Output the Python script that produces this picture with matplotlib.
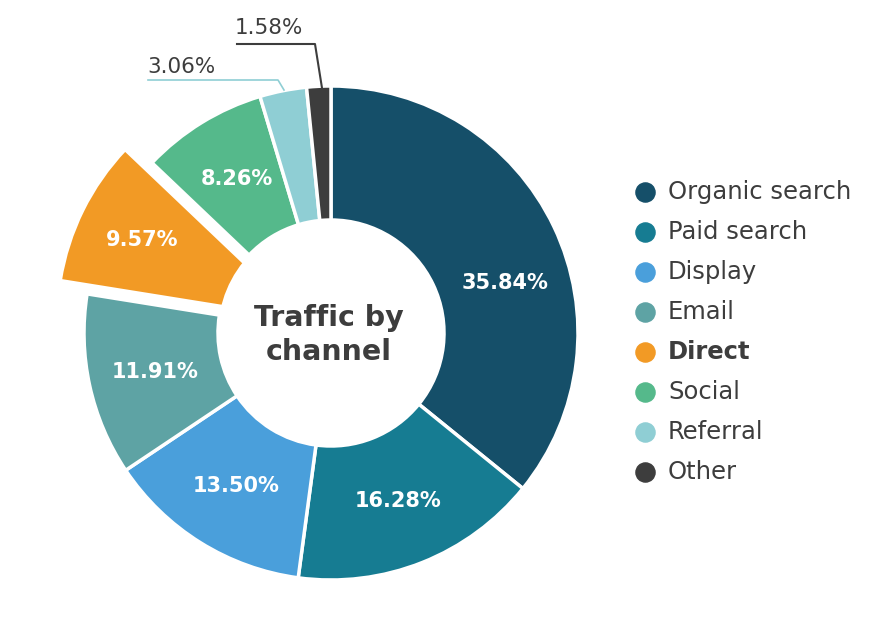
import matplotlib.pyplot as plt
from matplotlib.patches import Circle

canales = ["Organic search", "Paid search", "Display", "Email", "Direct",
           "Social", "Referral", "Other"]
porcentajes = [35.84, 16.28, 13.50, 11.91, 9.57, 8.26, 3.06, 1.58]
colores = ["#154f69", "#167c92", "#4a9fdb", "#5ea3a4", "#f29a25",
           "#55b98b", "#8fced4", "#3d3d3d"]
separado = [0, 0, 0, 0, 30, 0, 0, 0]  # en pixeles (unidades de datos)

plt.rcParams['font.family'] = ['DejaVu Sans']
texto = "#3d3d3d"

fig = plt.figure(figsize=(8.89, 6.34), dpi=100)
ax = fig.add_axes([0, 0, 1, 1])

centro = (331, 301)
radio = 247
hueco = 113

wedges, _, autotexts = ax.pie(
    porcentajes, colors=colores, explode=separado, startangle=90,
    counterclock=False, center=centro, radius=radio, frame=True,
    autopct=lambda p: f"{p:.2f}%", pctdistance=0.73,
    wedgeprops=dict(width=radio - hueco, edgecolor="white", linewidth=2.5))

# la porcion separada llega hasta el hueco original
wedges[4].set_width(radio)
ax.add_patch(Circle(centro, hueco, facecolor="white", edgecolor="none", zorder=2))

ax.set_xlim(0, 889)
ax.set_ylim(0, 634)
ax.set_aspect('equal')
ax.axis('off')

for i, t in enumerate(autotexts):
    t.set_color("white")
    t.set_fontweight("bold")
    t.set_fontsize(15)
    if porcentajes[i] < 5:
        t.set_visible(False)
# la etiqueta de organic esta algo mas abajo en el original
autotexts[0].set_position((505, 351))

# etiquetas externas de las porciones chicas
ax.text(147, 567, f"{porcentajes[6]:.2f}%", fontsize=15.5, color=texto,
        va='center', ha='left')
ax.plot([148, 278, 284], [554, 554, 544], color=colores[6], lw=1.2)
ax.text(235, 606, f"{porcentajes[7]:.2f}%", fontsize=15.5, color=texto,
        va='center', ha='left')
ax.plot([237, 315, 322], [590, 590, 546], color=colores[7], lw=1.5)

ax.text(329, 299, "Traffic by\nchannel", ha='center', va='center',
        fontsize=20.5, fontweight='bold', color=texto, linespacing=1.25,
        zorder=3)

# leyenda
for i, nombre in enumerate(canales):
    y = 634 - 192 - i * 40
    ax.scatter([645], [y], s=190, color=colores[i], zorder=3)
    ax.text(668, y, nombre, fontsize=17.5, color=texto, va='center', ha='left',
            fontweight='bold' if nombre == "Direct" else 'normal')

fig.savefig("out.png", dpi=100)
